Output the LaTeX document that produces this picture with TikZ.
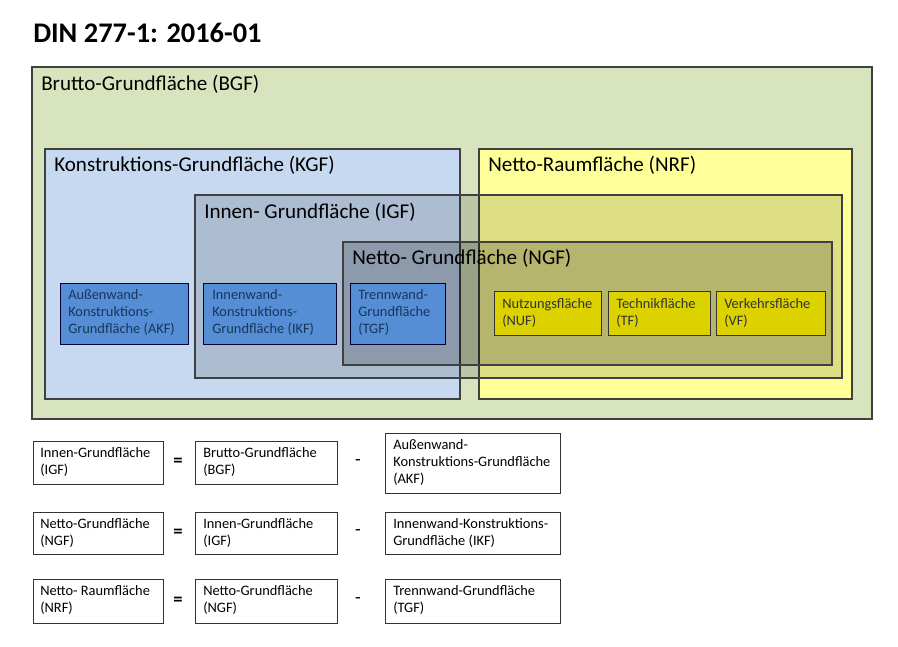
\documentclass[tikz,border=0pt]{standalone}
\usepackage{fontspec}
\setmainfont{Carlito}
\begin{document}
\begin{tikzpicture}[x=0.75pt,y=-0.75pt,
  area/.style={draw=black!75,line width=0.8pt},
  big/.style={anchor=north west,inner sep=0pt,font=\fontsize{15.8}{18}\selectfont},
  sm/.style={anchor=north west,inner sep=0pt,align=left,font=\fontsize{10.8}{13}\selectfont},
  bluebox/.style={draw=black!80!blue,line width=0.6pt,fill=blue2},
  yelbox/.style={draw=black!80,line width=0.6pt,fill=yel2},
  eqbox/.style={draw=black!80,line width=0.6pt,fill=white}]
\definecolor{bgf}{HTML}{D7E4BD}
\definecolor{kgf}{HTML}{C6D9F1}
\definecolor{nrf}{HTML}{FFFF99}
\definecolor{blue2}{HTML}{558ED5}
\definecolor{yel2}{HTML}{DCD200}
\definecolor{bluet}{HTML}{17365D}
\useasboundingbox[fill=white] (0,0) rectangle (898,646);
\node[anchor=north west,inner sep=0pt,font=\fontsize{21.3}{23}\selectfont\bfseries] (title) at (33,23) {DIN 277-1: 2016-01};
\draw[area,fill=bgf] (32,67) rectangle (872,419);
\node[big] (bgf) at (41,75) {Brutto-Grundfläche (BGF)};
\draw[area,fill=kgf] (45,149) rectangle (460,399);
\node[big] (kgf) at (54,156) {Konstruktions-Grundfläche (KGF)};
\draw[area,fill=nrf] (479,149) rectangle (852,399);
\node[big] (nrf) at (488,156) {Netto-Raumfläche (NRF)};
\draw[area,fill=black,fill opacity=0.13] (195,195) rectangle (842,378);
\node[big] (igf) at (204,203) {Innen- Grundfläche (IGF)};
\draw[area,fill=black,fill opacity=0.18] (343,242) rectangle (832,365);
\node[big] (ngf) at (352,249) {Netto- Grundfläche (NGF)};
% blue boxes
\draw[bluebox] (60,283) rectangle (188,344);
\node[sm,text=bluet] (akf) at (68,289) {Außenwand-\\Konstruktions-\\Grundfläche (AKF)};
\draw[bluebox] (203,283) rectangle (336,344);
\node[sm,text=bluet] (ikf) at (212,289) {Innenwand-\\Konstruktions-\\Grundfläche (IKF)};
\draw[bluebox] (350,283) rectangle (445,344);
\node[sm,text=bluet] (tgf) at (358,289) {Trennwand-\\Grundfläche\\(TGF)};
% yellow boxes
\draw[yelbox] (494,291) rectangle (601,335);
\node[sm,text=black!80] (nuf) at (502,298) {Nutzungsfläche\\(NUF)};
\draw[yelbox] (608,291) rectangle (710,335);
\node[sm,text=black!80] (tf) at (616,298) {Technikfläche\\(TF)};
\draw[yelbox] (716,291) rectangle (825,335);
\node[sm,text=black!80] (vf) at (724,298) {Verkehrsfläche\\(VF)};
% equations
\foreach \ya/\yb/\yc/\yd/\a/\b/\c [count=\i] in {
  441/484/433/493/{Innen-Grundfläche\\(IGF)}/{Brutto-Grundfläche\\(BGF)}/{Außenwand-\\Konstruktions-Grundfläche\\(AKF)},
  512/554/512/554/{Netto-Grundfläche\\(NGF)}/{Innen-Grundfläche\\(IGF)}/{Innenwand-Konstruktions-\\Grundfläche (IKF)},
  579/623/579/623/{Netto- Raumfläche\\(NRF)}/{Netto-Grundfläche\\(NGF)}/{Trennwand-Grundfläche\\(TGF)}}{
  \draw[eqbox] (33,\ya) rectangle (163,\yb);
  \node[sm] (l\i) at (40,\ya+6) {\a};
  \draw[eqbox] (195,\ya) rectangle (337,\yb);
  \node[sm] (m\i) at (203,\ya+6) {\b};
  \draw[eqbox] (385,\yc) rectangle (560,\yd);
  \node[sm] (r\i) at (393,\yc+6) {\c};
  \node[font=\fontsize{14}{15}\selectfont\bfseries] (eq\i) at (178,{(\ya+\yb)/2}) {=};
  \node[font=\fontsize{14}{15}\selectfont] (mi\i) at (358,{(\ya+\yb)/2}) {-};
}
\end{tikzpicture}
\end{document}
